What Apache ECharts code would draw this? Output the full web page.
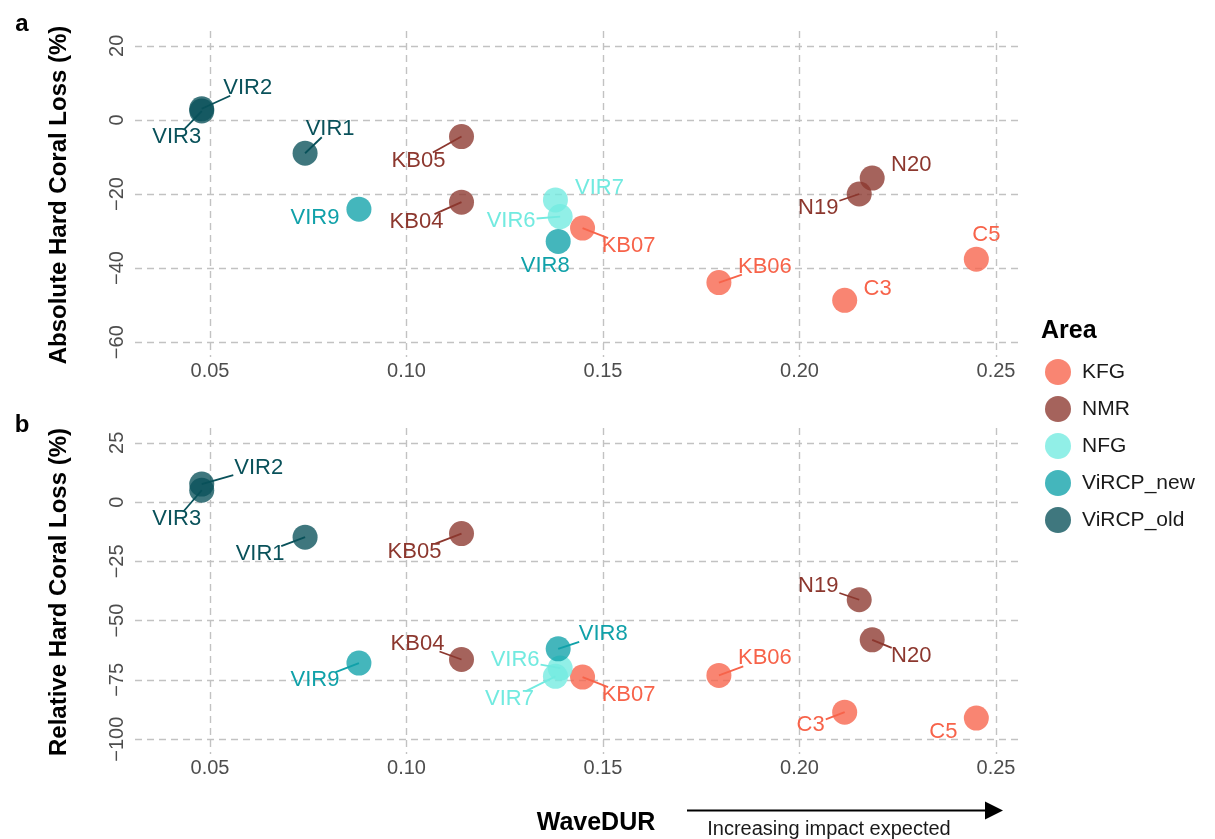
<!DOCTYPE html>
<html>
<head>
<meta charset="utf-8">
<script src="https://cdn.jsdelivr.net/npm/echarts@6/dist/echarts.min.js"></script>
<style>
  html, body { margin: 0; padding: 0; background: #ffffff; }
  #chart { width: 1215px; height: 839px; }
</style>
</head>
<body>
<div id="chart"></div>
<script>
// ---- Site data ----
const sites    = ['VIR1', 'VIR2', 'VIR3', 'VIR9', 'VIR8', 'VIR6', 'VIR7', 'KB04', 'KB05', 'N19', 'N20', 'KB06', 'KB07', 'C3', 'C5'];
const siteArea = ['ViRCP_old', 'ViRCP_old', 'ViRCP_old', 'ViRCP_new', 'ViRCP_new', 'NFG', 'NFG', 'NMR', 'NMR', 'NMR', 'NMR', 'KFG', 'KFG', 'KFG', 'KFG'];
const waveDur  = [0.0742, 0.0479, 0.0479, 0.0879, 0.1386, 0.1391, 0.1379, 0.1140, 0.1140, 0.2152, 0.2185, 0.1795, 0.1448, 0.2115, 0.2450];
// Absolute hard coral loss (%)
const absLoss  = [-9.0, 3.0, 2.4, -24.1, -32.8, -26.1, -21.6, -22.2, -4.5, -20.0, -15.7, -43.9, -29.2, -48.7, -37.6];
// Relative hard coral loss (%)
const relLoss  = [-14.8, 7.6, 5.0, -67.9, -61.9, -70.0, -73.5, -66.4, -13.3, -41.2, -58.1, -73.1, -73.8, -88.6, -91.1];

// ---- Legend / scale ----
const areas = ['KFG', 'NMR', 'NFG', 'ViRCP_new', 'ViRCP_old'];
const xTicks = [0.05, 0.10, 0.15, 0.20, 0.25];
const absTicks = [-60, -40, -20, 0, 20];
const relTicks = [-100, -75, -50, -25, 0, 25];

// ---- Styling ----
const areaColors = {
  KFG: '#f7634a',
  NMR: '#8c372e',
  NFG: '#72eae0',
  ViRCP_new: '#10a1a9',
  ViRCP_old: '#09515a'
};
// label placement (pixel offset of the text centre from its point)
const absLabelOffset = [
  [25, -24], [46, -21], [-25, 26], [-44, 9], [-13, 25], [-49, 4], [44, -12],
  [-45, 20], [-43, 24], [-41, 14], [39, -13], [46, -16], [46, 18], [33, -11], [10, -24]
];
const relLabelOffset = [
  [-45, 17], [57, -16], [-25, 29], [-44, 17], [45, -15], [-45, -8], [-46, 23],
  [-44, -16], [-47, 18], [-41, -14], [39, 16], [46, -17], [46, 18], [-34, 13], [-33, 14]
];

const FONT = '"Liberation Sans", Arial, Helvetica, sans-serif';
const LABEL_SIZE = 22;
const measureCtx = document.createElement('canvas').getContext('2d');
measureCtx.font = LABEL_SIZE + 'px ' + FONT;

const minus = v => (v < 0 ? '\u2212' + Math.abs(v) : String(v));

function makeAxes(gridIndex, yMin, yMax, yTicks) {
  const gridLine = { show: true, lineStyle: { color: '#c2c2c2', width: 1.4, type: [7, 5] } };
  return {
    x: {
      type: 'value', gridIndex, min: 0.03092, max: 0.2556,
      axisLine: { show: false },
      axisTick: { show: false, customValues: xTicks },
      splitLine: Object.assign({ customValues: xTicks }, gridLine),
      axisLabel: {
        customValues: xTicks, formatter: v => v.toFixed(2),
        fontSize: 20, color: '#4d4d4d', fontFamily: FONT, margin: 4
      }
    },
    y: {
      type: 'value', gridIndex, min: yMin, max: yMax,
      axisLine: { show: false },
      axisTick: { show: false, customValues: yTicks },
      splitLine: Object.assign({ customValues: yTicks }, gridLine),
      axisLabel: {
        customValues: yTicks, formatter: minus, rotate: 90,
        fontSize: 20, color: '#4d4d4d', fontFamily: FONT, margin: 8
      }
    }
  };
}

const absAxes = makeAxes(0, -64, 24, absTicks);
const relAxes = makeAxes(1, -106.25, 31.25, relTicks);

function pointSeries(values, axisIndex) {
  return areas.map(a => ({
    name: a,
    type: 'scatter',
    xAxisIndex: axisIndex,
    yAxisIndex: axisIndex,
    symbolSize: 25,
    itemStyle: { color: areaColors[a], opacity: 0.78 },
    emphasis: { disabled: true },
    data: sites.map((s, i) => (siteArea[i] === a ? [waveDur[i], values[i], s] : null)).filter(d => d)
  }));
}

// Site labels with leader segments, repelled from their points
function labelSeries(values, offsets, axisIndex) {
  return {
    type: 'custom',
    xAxisIndex: axisIndex,
    yAxisIndex: axisIndex,
    z: 5,
    clip: false,
    silent: true,
    data: sites.map((s, i) => [waveDur[i], values[i], i]),
    renderItem(params, api) {
      const i = api.value(2);
      const p = api.coord([api.value(0), api.value(1)]);
      const off = offsets[i];
      const color = areaColors[siteArea[i]];
      const tx = p[0] + off[0];
      const ty = p[1] + off[1];
      const hw = measureCtx.measureText(sites[i]).width / 2 + 1;
      const hh = 8;
      const kx = Math.abs(off[0]) > 0 ? 1 - hw / Math.abs(off[0]) : -1;
      const ky = Math.abs(off[1]) > 0 ? 1 - hh / Math.abs(off[1]) : -1;
      const t = Math.max(kx, ky, 0);
      const ex = p[0] + off[0] * t;
      const ey = p[1] + off[1] * t;
      const segLen = Math.hypot(ex - p[0], ey - p[1]);
      const children = [];
      if (segLen > 19.5) {
        children.push({
          type: 'line',
          shape: { x1: p[0], y1: p[1], x2: ex, y2: ey },
          style: { stroke: color, lineWidth: 1.8 }
        });
      }
      children.push({
        type: 'text',
        x: tx, y: ty,
        style: {
          text: sites[i], fill: color, font: LABEL_SIZE + 'px ' + FONT,
          align: 'center', verticalAlign: 'middle'
        }
      });
      return { type: 'group', children };
    }
  };
}

const chart = echarts.init(document.getElementById('chart'), null, { renderer: 'canvas' });

chart.setOption({
  backgroundColor: '#ffffff',
  animation: false,
  textStyle: { fontFamily: FONT },
  grid: [
    { left: 135, top: 31, width: 883, height: 326 },
    { left: 135, top: 428, width: 883, height: 326 }
  ],
  xAxis: [absAxes.x, relAxes.x],
  yAxis: [absAxes.y, relAxes.y],
  legend: {
    data: areas,
    orient: 'vertical',
    left: 1045,
    top: 359,
    padding: 0,
    itemWidth: 26,
    itemHeight: 26,
    itemGap: 11,
    icon: 'circle',
    selectedMode: false,
    textStyle: { fontSize: 21, color: '#1a1a1a', fontFamily: FONT, padding: [0, 0, 0, 6] }
  },
  graphic: [
    { type: 'text', x: 22, y: 24, style: { text: 'a', font: 'bold 24px ' + FONT, fill: '#000', align: 'center', verticalAlign: 'middle' } },
    { type: 'text', x: 22, y: 425, style: { text: 'b', font: 'bold 24px ' + FONT, fill: '#000', align: 'center', verticalAlign: 'middle' } },
    { type: 'text', x: 59, y: 195, rotation: Math.PI / 2,
      style: { text: 'Absolute Hard Coral Loss (%)', font: 'bold 24px ' + FONT, fill: '#000', align: 'center', verticalAlign: 'middle' } },
    { type: 'text', x: 59, y: 592, rotation: Math.PI / 2,
      style: { text: 'Relative Hard Coral Loss (%)', font: 'bold 24px ' + FONT, fill: '#000', align: 'center', verticalAlign: 'middle' } },
    { type: 'text', x: 596, y: 823, style: { text: 'WaveDUR', font: 'bold 25px ' + FONT, fill: '#000', align: 'center', verticalAlign: 'middle' } },
    { type: 'text', x: 1041, y: 331, style: { text: 'Area', font: 'bold 25px ' + FONT, fill: '#000', align: 'left', verticalAlign: 'middle' } },
    { type: 'line', shape: { x1: 687, y1: 810.5, x2: 990, y2: 810.5 }, style: { stroke: '#000', lineWidth: 2 } },
    { type: 'polygon', shape: { points: [[1003, 810.5], [985, 801.5], [985, 819.5]] }, style: { fill: '#000' } },
    { type: 'text', x: 829, y: 829, style: { text: 'Increasing impact expected', font: '20px ' + FONT, fill: '#1a1a1a', align: 'center', verticalAlign: 'middle' } }
  ],
  series: [
    ...pointSeries(absLoss, 0),
    ...pointSeries(relLoss, 1),
    labelSeries(absLoss, absLabelOffset, 0),
    labelSeries(relLoss, relLabelOffset, 1)
  ]
});
</script>
</body>
</html>
